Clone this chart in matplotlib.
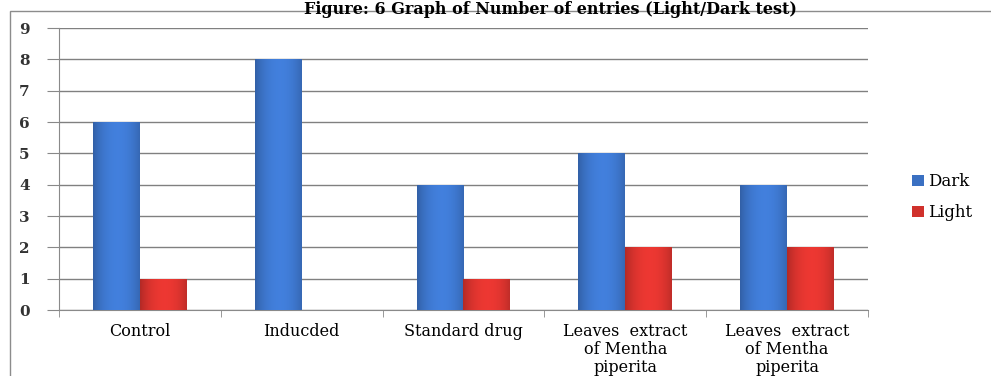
import matplotlib.pyplot as plt
import numpy as np
from matplotlib.patches import Rectangle

# Light/Dark test: number of entries per group
groups = ["Control", "Inducded", "Standard drug",
          "Leaves  extract\nof Mentha\npiperita", "Leaves  extract\nof Mentha\npiperita"]
dark = [6, 8, 4, 5, 4]
light = [1, 0, 1, 2, 2]
yticks = list(range(0, 10))

serif = ["DejaVu Serif"]

fig = plt.figure(figsize=(9.91, 3.76), dpi=100)

# outer frame of the chart
fig.patches.append(Rectangle((10 / 991, -0.01), 1.0, 1 - 11 / 376 + 0.01,
                             transform=fig.transFigure, fill=False,
                             edgecolor="#8c8c8c", linewidth=1.0))
fig.text(0.555, 1 - 1 / 376, "Figure: 6 Graph of Number of entries (Light/Dark test)",
         ha="center", va="top", fontsize=11.5, fontweight="bold",
         family=serif)

ax = fig.add_axes([59 / 991, 1 - 310 / 376, (868 - 59) / 991, (310 - 28) / 376])

x = np.arange(len(groups))
w = 0.29


def shaded(col):
    # horizontal gradient to give the bars a rounded look
    c = np.array(plt.matplotlib.colors.to_rgb(col))
    t = np.linspace(0, 1, 64)
    k = 0.72 + 0.42 * np.sin(np.pi * (t * 0.85 + 0.05)) ** 0.6
    img = np.clip(c[None, :] * k[:, None], 0, 1)
    return img[None, :, :]


bars_d = ax.bar(x - w / 2, dark, w, color="#3a70c2", zorder=3)
bars_l = ax.bar(x + w / 2, light, w, color="#d0312c", zorder=3)
for bars, col in ((bars_d, "#3a70c2"), (bars_l, "#d0312c")):
    for b in bars:
        if b.get_height() <= 0:
            continue
        x0, y0 = b.get_x(), b.get_y()
        im = ax.imshow(shaded(col), extent=(x0, x0 + b.get_width(), y0, y0 + b.get_height()),
                       aspect="auto", zorder=4, interpolation="bilinear")
        im.set_clip_path(b)

ax.set_xlim(-0.5, len(groups) - 0.5)
ax.set_ylim(0, 9)
ax.set_yticks(yticks)
ax.set_yticklabels([str(v) for v in yticks], family=serif, fontweight="bold",
                   fontsize=11, color="#333333")
ax.set_xticks(x)
ax.set_xticklabels(groups, family=serif, fontsize=11.5, linespacing=1.08, va="top")
ax.tick_params(axis="x", length=0, pad=9)
ax.set_xticks(np.arange(-0.5, len(groups)), minor=True)
ax.tick_params(axis="x", which="minor", length=5, color="#888888", direction="out")
ax.tick_params(axis="y", length=9, color="#888888", direction="out", pad=16)
for lbl in ax.get_yticklabels():
    lbl.set_horizontalalignment("center")

ax.grid(axis="y", color="#808080", linewidth=1.0, zorder=0)
ax.set_axisbelow(True)
for s in ("top", "right"):
    ax.spines[s].set_visible(False)
ax.spines["left"].set_color("#8a8a8a")
ax.spines["bottom"].set_color("#8a8a8a")

leg = fig.legend([bars_d, bars_l], ["Dark", "Light"], loc="center left",
                 bbox_to_anchor=(0.905, 0.475), frameon=False,
                 prop={"family": serif, "size": 12},
                 handlelength=0.7, handleheight=0.7, handletextpad=0.3,
                 labelspacing=0.85)

fig.savefig("out.png", dpi=100)
